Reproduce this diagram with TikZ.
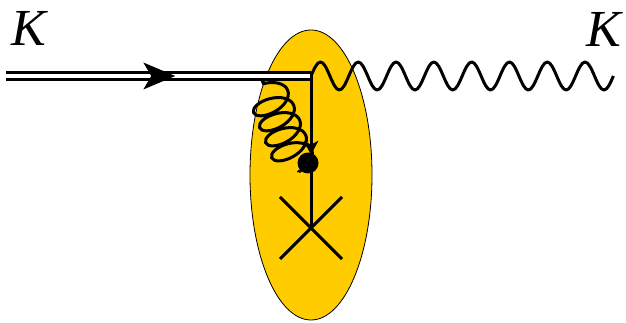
\documentclass[tikz,border=0pt]{standalone}
\usepackage{fontspec}
\setmainfont{Liberation Serif}
\usepackage{tikz}
\usetikzlibrary{shapes.geometric,decorations.pathmorphing,decorations.markings,arrows.meta}
\definecolor{blobyellow}{HTML}{FFCC00}

\begin{document}
\begin{tikzpicture}
[
    x = 1pt, y = 1pt,
    blob/.style={ellipse, draw = black, line width = 0.8pt, fill = blobyellow, minimum width = 122pt, minimum height = 290pt, inner sep = 0pt},
    vertex/.style={circle, fill = black, minimum size = 21pt, inner sep = 0pt},
    klabel/.style={font = \fontsize{52}{52}\selectfont\itshape, inner sep = 0pt},
    kaon/.style={double = white, double distance = 3.5pt, line width = 3pt, draw = black},
    quark/.style={line width = 3pt},
    photon/.style={line width = 3pt, line join = round},
    gluon/.style={line width = 3pt, decorate, decoration={coil, amplitude = 20pt, segment length = 16.2pt, aspect = 0.55, pre length = 4pt, post length = 0pt}},
    flow/.style={decoration={markings, mark = at position #1 with {\arrow[line width = 0pt]{Stealth[length = 32pt, width = 27pt, inset = 8pt]}}}, postaction = {decorate}},
    smallflow/.style={decoration={markings, mark = at position #1 with {\arrow[line width = 0pt]{Stealth[length = 14pt, width = 15pt, inset = 4pt]}}}, postaction = {decorate}},
]
\useasboundingbox (0,0) rectangle (626,323);

% Target blob
\node[blob] (blob) at (311,148) {};

% External kaon lines and labels
\node[klabel] (kin) at (29,295) {K};
\node[klabel] (kout) at (604,294) {K};
\coordinate (start) at (6,247);
\coordinate (corner) at (311,247);
\coordinate (top) at (311,251);
\coordinate (glue) at (262,243);
\coordinate (gend) at (299,151);
\coordinate (cross) at (311,95);

\draw[photon] (corner) \foreach \i in {1,...,8} {sin ++(9.45,14) cos ++(9.45,-14) sin ++(9.45,-14) cos ++(9.45,14)} coordinate (end);
\draw[kaon] (start) -- (corner);
\draw[flow = 0.555, draw = none] (start) -- (corner);
\draw[quark, smallflow = 0.53] (top) -- (cross);
\draw[gluon] (glue) -- (gend);
\node[vertex] (dot) at (308,160) {};

% Cross
\coordinate (x1) at (280,126);
\coordinate (x2) at (342,64);
\coordinate (x3) at (342,126);
\coordinate (x4) at (280,64);
\draw[quark] (x1) -- (x2);
\draw[quark] (x3) -- (x4);
\end{tikzpicture}
\end{document}
